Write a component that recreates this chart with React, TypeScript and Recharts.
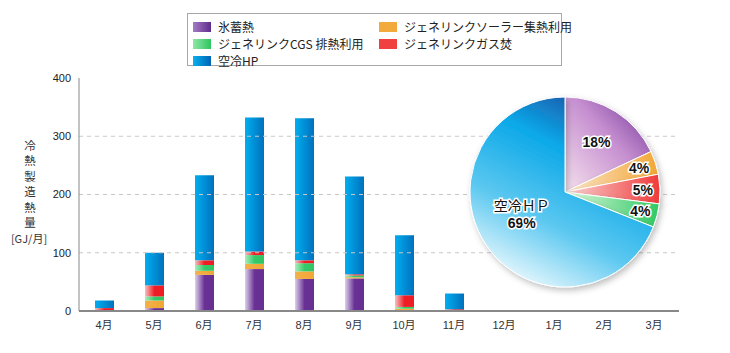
import React from "react";
import {
  BarChart,
  Bar,
  XAxis,
  YAxis,
  ReferenceLine,
  PieChart,
  Pie,
  Cell,
} from "recharts";

const months = ["4月", "5月", "6月", "7月", "8月", "9月", "10月", "11月", "12月", "1月", "2月", "3月"];
const iceStorage = [0, 5, 62, 72, 55, 56, 0, 0, 0, 0, 0, 0];
const solarHeat = [1, 13, 7, 9, 13, 2, 4, 1, 0, 0, 0, 0];
const cgsHeat = [0, 7, 10, 15, 14, 3, 3, 0, 0, 0, 0, 0];
const gasFired = [4, 19, 8, 6, 5, 2, 20, 2, 0, 0, 0, 0];
const airHp = [13, 56, 146, 230, 244, 168, 103, 27, 0, 0, 0, 0];

const yTicks = [0, 100, 200, 300, 400];
const gridValues = [100, 200, 300];
const boundaryTicks = [1, 2, 3, 4, 5, 6, 7, 8, 9, 10, 11];

// pie, clockwise from 12 o'clock
const pieNames = ["氷蓄熱", "ジェネリンクソーラー集熱利用", "ジェネリンクガス焚", "ジェネリンクCGS排熱利用", "空冷ＨＰ"];
const pieShares = [18, 4, 5, 4, 69];

const chartData = months.map((m, i) => ({
  month: m,
  ice: iceStorage[i],
  solar: solarHeat[i],
  cgs: cgsHeat[i],
  gas: gasFired[i],
  hp: airHp[i],
}));

const pieData = pieNames.map((name, i) => ({ name, value: pieShares[i] }));
const pieFills = ["url(#pIce)", "url(#pSolar)", "url(#pGas)", "url(#pCgs)", "url(#pHp)"];

const font = "'Liberation Sans', 'Noto Sans CJK JP', sans-serif";
const jpFont = "'Noto Sans CJK JP', sans-serif";

const legendItems = [
  { label: "氷蓄熱", color: "linear-gradient(90deg,#a47cc4,#5e2c8c)", x: 193, y: 20 },
  { label: "ジェネリンクCGS 排熱利用", color: "linear-gradient(90deg,#8ee8a6,#2fc45e)", x: 193, y: 37 },
  { label: "空冷HP", color: "linear-gradient(90deg,#08b0ee,#0064b4)", x: 193, y: 54 },
  { label: "ジェネリンクソーラー集熱利用", color: "#f2aa3c", x: 379, y: 20 },
  { label: "ジェネリンクガス焚", color: "#f04040", x: 379, y: 37 },
];

const titleChars = ["冷", "熱", "製", "造", "熱", "量"];

const RAD = Math.PI / 180;

const renderPieLabel = (props: any) => {
  const { cx, cy, midAngle, outerRadius, index } = props;
  const r = index === 4 ? outerRadius * 0.55 : index === 0 ? outerRadius * 0.62 : outerRadius * 0.82;
  const x = cx + r * Math.cos(-midAngle * RAD);
  const y = cy + r * Math.sin(-midAngle * RAD);
  const txt = {
    fill: "#111",
    stroke: "#fff",
    strokeWidth: 3,
    paintOrder: "stroke" as const,
    textAnchor: "middle" as const,
    fontFamily: font,
    fontWeight: 700,
    fontSize: 14,
  };
  if (index === 4) {
    return (
      <g>
        <text x={x} y={y - 10} {...txt} fontWeight={400} fontFamily={jpFont}>
          {pieNames[4]}
        </text>
        <text x={x} y={y + 7} {...txt}>
          {pieShares[4]}%
        </text>
      </g>
    );
  }
  return (
    <text x={x} y={y + 5} {...txt}>
      {pieShares[index]}%
    </text>
  );
};

export default function App() {
  return (
    <div style={{ position: "absolute", left: 0, top: 0, width: 730, height: 353, background: "#fff" }}>
      <BarChart
        width={730}
        height={353}
        data={chartData}
        barSize={19}
        margin={{ top: 78, right: 51, left: 0, bottom: 12 }}
      >
        <defs>
          <linearGradient id="bIce" x1="0" y1="0" x2="1" y2="0">
            <stop offset="0" stopColor="#ddd0ea" />
            <stop offset="0.5" stopColor="#693195" />
            <stop offset="1" stopColor="#662f90" />
          </linearGradient>
          <linearGradient id="bSolar" x1="0" y1="0" x2="1" y2="0">
            <stop offset="0" stopColor="#f4b04a" />
            <stop offset="1" stopColor="#f0a634" />
          </linearGradient>
          <linearGradient id="bCgs" x1="0" y1="0" x2="1" y2="0">
            <stop offset="0" stopColor="#a8eebb" />
            <stop offset="0.5" stopColor="#36c96a" />
            <stop offset="1" stopColor="#31c462" />
          </linearGradient>
          <linearGradient id="bGas" x1="0" y1="0" x2="1" y2="0">
            <stop offset="0" stopColor="#f8c0c0" />
            <stop offset="0.5" stopColor="#ee1c24" />
            <stop offset="1" stopColor="#ee1c24" />
          </linearGradient>
          <linearGradient id="bHp" x1="0" y1="0" x2="1" y2="0">
            <stop offset="0" stopColor="#00aeef" />
            <stop offset="1" stopColor="#0070bd" />
          </linearGradient>
        </defs>
        {gridValues.map((v) => (
          <ReferenceLine key={v} y={v} stroke="#c8c8c8" strokeDasharray="4 4" />
        ))}
        <XAxis
          xAxisId="edge"
          type="number"
          domain={[0, 12]}
          ticks={boundaryTicks}
          tickFormatter={() => ""}
          mirror
          tickSize={4}
          axisLine={false}
          tickLine={{ stroke: "#aaa" }}
          height={0}
        />
        <XAxis
          dataKey="month"
          axisLine={{ stroke: "#888", strokeWidth: 2 }}
          tickLine={false}
          tickSize={8}
          height={30}
          tick={{ fill: "#333", fontSize: 11, fontFamily: font }}
        />
        <YAxis
          domain={[0, 400]}
          ticks={yTicks}
          width={79}
          axisLine={{ stroke: "#888" }}
          tickLine={false}
          tick={{ fill: "#222", fontSize: 11, fontFamily: font }}
        />
        <Bar dataKey="ice" stackId="a" fill="url(#bIce)" isAnimationActive={false} />
        <Bar dataKey="solar" stackId="a" fill="url(#bSolar)" isAnimationActive={false} />
        <Bar dataKey="cgs" stackId="a" fill="url(#bCgs)" isAnimationActive={false} />
        <Bar dataKey="gas" stackId="a" fill="url(#bGas)" isAnimationActive={false} />
        <Bar dataKey="hp" stackId="a" fill="url(#bHp)" isAnimationActive={false} />
      </BarChart>

      <div style={{ position: "absolute", left: 450, top: 77 }}>
        <PieChart width={230} height={230} margin={{ top: 0, right: 0, bottom: 0, left: 0 }}>
          <defs>
            <linearGradient id="pIce" x1="1" y1="0" x2="0" y2="1">
              <stop offset="0" stopColor="#6a2e93" />
              <stop offset="0.45" stopColor="#c68fd0" />
              <stop offset="1" stopColor="#f6e2ee" />
            </linearGradient>
            <linearGradient id="pSolar" x1="0" y1="0.5" x2="1" y2="0.5">
              <stop offset="0" stopColor="#fbe6cc" />
              <stop offset="1" stopColor="#f2a636" />
            </linearGradient>
            <linearGradient id="pGas" x1="0" y1="0.5" x2="1" y2="0.5">
              <stop offset="0" stopColor="#fbd6d6" />
              <stop offset="1" stopColor="#f03a3a" />
            </linearGradient>
            <linearGradient id="pCgs" x1="0" y1="0.5" x2="1" y2="0.5">
              <stop offset="0" stopColor="#e0fae0" />
              <stop offset="1" stopColor="#2ec862" />
            </linearGradient>
            <linearGradient id="pHp" x1="0.85" y1="0" x2="0.35" y2="1">
              <stop offset="0" stopColor="#243a90" />
              <stop offset="0.35" stopColor="#0aa8e8" />
              <stop offset="0.7" stopColor="#5cc8f0" />
              <stop offset="1" stopColor="#e2f6fd" />
            </linearGradient>
            <filter id="pieShadow" x="-20%" y="-20%" width="140%" height="140%">
              <feDropShadow dx="2" dy="3" stdDeviation="3" floodColor="#000" floodOpacity="0.25" />
            </filter>
          </defs>
          <Pie
            data={pieData}
            dataKey="value"
            nameKey="name"
            cx={115}
            cy={115}
            outerRadius={95}
            startAngle={90}
            endAngle={-270}
            stroke="#fff"
            strokeWidth={1}
            labelLine={false}
            label={renderPieLabel}
            isAnimationActive={false}
            style={{ filter: "url(#pieShadow)" }}
          >
            {pieData.map((d, i) => (
              <Cell key={d.name} fill={pieFills[i]} />
            ))}
          </Pie>
        </PieChart>
      </div>

      <div
        style={{
          position: "absolute",
          left: 187,
          top: 13,
          width: 375,
          height: 53,
          border: "1px solid #a8a8a8",
          boxSizing: "border-box",
        }}
      />
      {legendItems.map((it) => (
        <div
          key={it.label}
          style={{
            position: "absolute",
            left: it.x,
            top: it.y,
            display: "flex",
            alignItems: "center",
            fontFamily: jpFont,
            fontSize: 12,
            color: "#222",
            whiteSpace: "nowrap",
            lineHeight: "14px",
          }}
        >
          <span style={{ display: "inline-block", width: 18, height: 10, background: it.color, marginRight: 7 }} />
          {it.label}
        </div>
      ))}

      {titleChars.map((c, i) => (
        <div
          key={i}
          style={{
            position: "absolute",
            left: 20,
            top: 139 + i * 15.4,
            width: 20,
            height: 13,
            fontFamily: jpFont,
            fontSize: 11.5,
            lineHeight: "13px",
            color: "#333",
            textAlign: "center",
          }}
        >
          {c}
        </div>
      ))}
      <div
        style={{
          position: "absolute",
          left: 6,
          top: 231,
          width: 46,
          textAlign: "center",
          fontFamily: jpFont,
          fontSize: 11,
          lineHeight: "14px",
          color: "#333",
        }}
      >
        [GJ/月]
      </div>
    </div>
  );
}
